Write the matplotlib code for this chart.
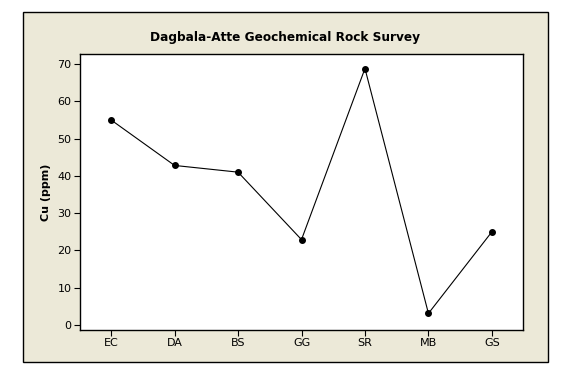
import matplotlib
matplotlib.use('Agg')
import matplotlib.pyplot as plt
from matplotlib.patches import Rectangle

samples = ['EC', 'DA', 'BS', 'GG', 'SR', 'MB', 'GS']
cu_ppm = [55, 42.8, 41, 22.9, 68.8, 3.1, 25]
y_ticks = [0, 10, 20, 30, 40, 50, 60, 70]

plt.rcParams['font.family'] = ['DejaVu Sans']

fig = plt.figure(figsize=(5.75, 3.79), dpi=100)
fig.patch.set_facecolor('white')

# beige panel behind the plot, like the Minitab graph window
panel = Rectangle((23 / 575, 1 - 362 / 379), 525 / 575, 350 / 379,
                  transform=fig.transFigure, facecolor='#ECE9D8',
                  edgecolor='black', linewidth=1.0, zorder=-1)
fig.patches.append(panel)

ax = fig.add_axes([80 / 575, 1 - 330 / 379, 443 / 575, 276 / 379])
ax.set_zorder(2)
ax.set_facecolor('white')

x = range(len(samples))
ax.plot(x, cu_ppm, color='black', linewidth=0.8, marker='o',
        markersize=4, markerfacecolor='black')

ax.set_xlim(-0.49, len(samples) - 0.51)
ax.set_ylim(-1.35, 72.7)
ax.set_xticks(list(x))
ax.set_xticklabels(samples)
ax.set_yticks(y_ticks)

for side in ['top', 'right', 'left', 'bottom']:
    ax.spines[side].set_linewidth(1.0)
ax.tick_params(direction='out', length=4, width=0.8, labelsize=8,
               colors='black', pad=2)

ax.set_ylabel('Cu (ppm)', fontsize=8, fontweight='bold', labelpad=5)
fig.text(285.5 / 575, 1 - 37 / 379, 'Dagbala-Atte Geochemical Rock Survey',
         ha='center', va='center', fontsize=8.7, fontweight='bold')

fig.savefig('out.png', dpi=100, facecolor='white')
